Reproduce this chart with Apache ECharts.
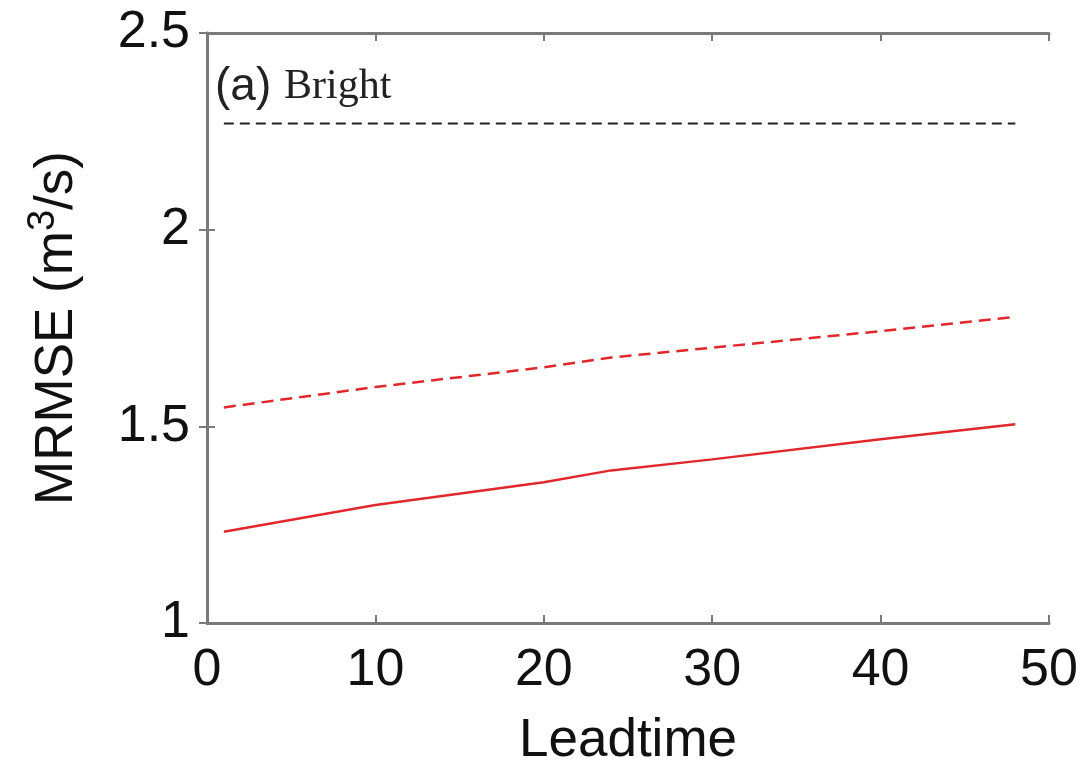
<!DOCTYPE html>
<html><head><meta charset="utf-8">
<script src="https://cdn.jsdelivr.net/npm/echarts@6/dist/echarts.min.js"></script>
<style>html,body{margin:0;padding:0;background:#fff}#c{width:1086px;height:767px}</style>
</head><body><div id="c"></div>
<script>
const leadtimes = [1, 10, 20, 24, 30, 40, 48];
const brightRef = [2.27, 2.27, 2.27, 2.27, 2.27, 2.27, 2.27];
const redDashed = [1.548, 1.600, 1.650, 1.675, 1.700, 1.742, 1.778];
const redSolid = [1.232, 1.300, 1.358, 1.388, 1.416, 1.467, 1.505];
const xTicks = [0, 10, 20, 30, 40, 50];
const yTicks = [1, 1.5, 2, 2.5];

const pair = (ys) => leadtimes.map((x, i) => [x, ys[i]]);
const font = 'Liberation Sans, Arial, sans-serif';
const frame = '#7a7a7a';
const chart = echarts.init(document.getElementById('c'));
chart.setOption({
  animation: false,
  grid: { left: 207, right: 37, top: 33, bottom: 144, show: false, containLabel: false, outerBoundsMode: 'none' },
  xAxis: [{
    type: 'value', min: 0, max: 50, interval: 10,
    axisLine: { show: true, lineStyle: { color: frame, width: 3 } },
    axisTick: { show: true, inside: true, length: 8, lineStyle: { color: frame, width: 2 } },
    splitLine: { show: false },
    axisLabel: { color: '#111', fontSize: 52, fontFamily: font, margin: 22,
      formatter: v => xTicks.includes(v) ? String(v) : '' },
    name: 'Leadtime', nameLocation: 'middle', nameGap: 92,
    nameTextStyle: { color: '#111', fontSize: 53, fontFamily: font }
  }, {
    type: 'value', min: 0, max: 50, interval: 10, position: 'top',
    axisLine: { show: true, lineStyle: { color: frame, width: 3 } },
    axisTick: { show: true, inside: true, length: 8, lineStyle: { color: frame, width: 2 } },
    axisLabel: { show: false }, splitLine: { show: false }
  }],
  yAxis: [{
    type: 'value', min: 1, max: 2.5, interval: 0.5,
    axisLine: { show: true, lineStyle: { color: frame, width: 3 } },
    axisTick: { show: true, inside: true, length: 8, lineStyle: { color: frame, width: 2 } },
    splitLine: { show: false },
    axisLabel: { color: '#111', fontSize: 52, fontFamily: font, margin: 17,
      formatter: v => yTicks.includes(v) ? String(v) : '' },
    name: 'MRMSE (m{sup|3}/s)', nameLocation: 'middle', nameGap: 118, nameRotate: 90,
    nameTextStyle: { color: '#111', fontSize: 53, fontFamily: font,
      rich: { sup: { fontSize: 38, fontFamily: font, color: '#111', verticalAlign: 'top', padding: [0, 0, 26, 0] } } }
  }, {
    type: 'value', min: 1, max: 2.5, interval: 0.5, position: 'right',
    axisLine: { show: true, lineStyle: { color: frame, width: 3 } },
    axisTick: { show: true, inside: true, length: 8, lineStyle: { color: frame, width: 2 } },
    axisLabel: { show: false }, splitLine: { show: false }
  }],
  graphic: [{
    type: 'text', left: 215, top: 64,
    style: { text: '(a) {b|Bright}', fill: '#222', font: '46px Liberation Sans, Arial, sans-serif',
      rich: { b: { fontFamily: 'Liberation Serif, Times New Roman, serif', fontSize: 42, fill: '#222' } } }
  }],
  series: [{
    type: 'line', data: pair(brightRef), symbol: 'none',
    lineStyle: { color: '#222', width: 2, type: [10, 6] }
  }, {
    type: 'line', data: pair(redDashed), symbol: 'none',
    lineStyle: { color: '#e0282c', width: 2.5, type: [12, 7] }
  }, {
    type: 'line', data: pair(redSolid), symbol: 'none',
    lineStyle: { color: '#e0282c', width: 2.5 }
  }]
});
</script></body></html>
